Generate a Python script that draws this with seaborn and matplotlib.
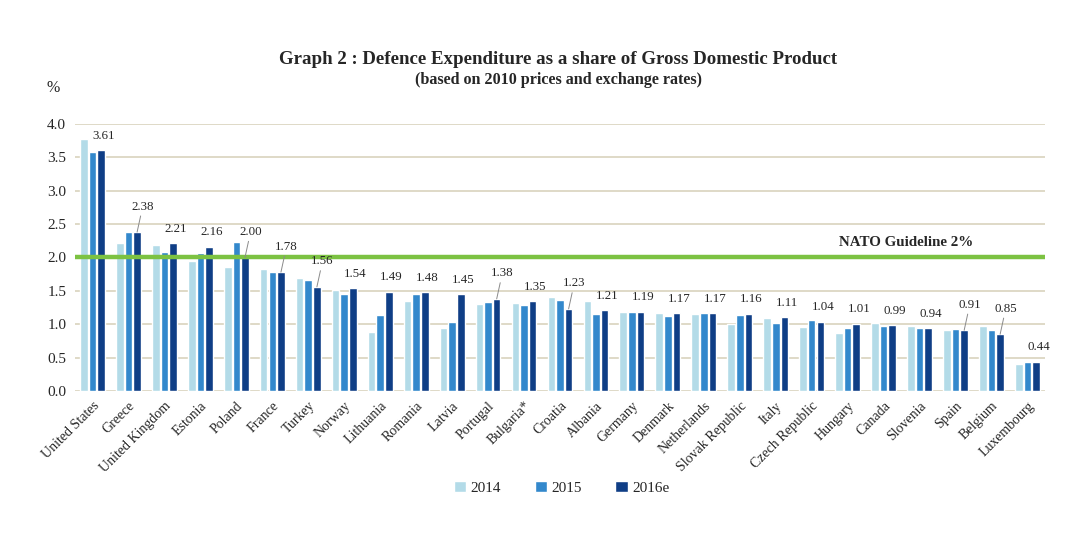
import matplotlib
matplotlib.use("Agg")
import matplotlib.pyplot as plt
import seaborn as sns
import pandas as pd

countries = ["United States", "Greece", "United Kingdom", "Estonia", "Poland", "France",
             "Turkey", "Norway", "Lithuania", "Romania", "Latvia", "Portugal", "Bulgaria*",
             "Croatia", "Albania", "Germany", "Denmark", "Netherlands", "Slovak Republic",
             "Italy", "Czech Republic", "Hungary", "Canada", "Slovenia", "Spain", "Belgium",
             "Luxembourg"]
v2014 = [3.77, 2.21, 2.19, 1.94, 1.86, 1.83, 1.70, 1.52, 0.89, 1.35, 0.94, 1.31, 1.32,
         1.41, 1.35, 1.19, 1.17, 1.155, 1.005, 1.095, 0.965, 0.875, 1.015, 0.98, 0.92, 0.97, 0.40]
v2015 = [3.58, 2.38, 2.085, 2.065, 2.23, 1.79, 1.67, 1.46, 1.145, 1.45, 1.04, 1.33, 1.29,
         1.37, 1.16, 1.19, 1.13, 1.165, 1.14, 1.015, 1.06, 0.94, 0.98, 0.94, 0.93, 0.92, 0.44]
v2016 = [3.61, 2.38, 2.21, 2.16, 2.00, 1.78, 1.56, 1.54, 1.49, 1.48, 1.45, 1.38, 1.35,
         1.23, 1.21, 1.19, 1.17, 1.17, 1.16, 1.11, 1.04, 1.01, 0.99, 0.94, 0.91, 0.85, 0.44]
years = ["2014", "2015", "2016e"]
leader_countries = ["Greece", "Poland", "France", "Turkey", "Portugal", "Croatia", "Spain", "Belgium"]
yticks = [0.0, 0.5, 1.0, 1.5, 2.0, 2.5, 3.0, 3.5, 4.0]
nato_level = 2.0

rows = []
for yr, vals in zip(years, [v2014, v2015, v2016]):
    for c, v in zip(countries, vals):
        rows.append({"country": c, "year": yr, "value": v})
df = pd.DataFrame(rows)

sns.set_theme(style="white")
plt.rcParams["font.family"] = ["Liberation Serif", "DejaVu Serif"]

palette = {"2014": "#b3dbe8", "2015": "#3388cc", "2016e": "#0f3e86"}
text_col = "#262626"

fig = plt.figure(figsize=(10.8, 5.36), dpi=100)
ax = fig.add_axes([0.069, 0.2705, 0.899, 0.4982])

sns.barplot(data=df, x="country", y="value", hue="year", palette=palette,
            order=countries, hue_order=years, width=0.72, gap=0.12,
            ax=ax, zorder=3, saturation=1, legend=True)

ax.set_ylim(0, 4.0)
ax.set_xlim(-0.5, len(countries) - 0.5)
ax.set_yticks(yticks)
ax.set_yticklabels([f"{t:.1f}" for t in yticks], fontsize=11, color=text_col)
ax.yaxis.grid(True, color="#dcd7c3", linewidth=1.3, zorder=0)
ax.set_axisbelow(True)
for s in ax.spines.values():
    s.set_visible(False)
ax.tick_params(axis="both", length=0, pad=6)
ax.set_xlabel("")
ax.set_ylabel("")
ax.set_xticks(range(len(countries)))
ax.set_xticklabels(countries, rotation=45, ha="right", rotation_mode="anchor",
                   fontsize=10, color=text_col)
ax.tick_params(axis="x", pad=6)

# NATO guideline
ax.axhline(nato_level, color="#7cc242", linewidth=3.2, zorder=5)
ax.text(0.856, nato_level + 0.12, "NATO Guideline 2%", transform=ax.get_yaxis_transform(),
        ha="center", va="bottom", fontsize=10.8, fontweight="bold", color=text_col)

# data labels on 2016e bars
cont = ax.containers[2]
for c, patch in zip(countries, cont.patches):
    x = patch.get_x() + patch.get_width() / 2
    h = patch.get_height()
    if c in leader_countries:
        ax.annotate(f"{h:.2f}", xy=(x, h), xytext=(4, 14), textcoords="offset points",
                    ha="center", va="bottom", fontsize=9.3, color=text_col, zorder=6,
                    arrowprops=dict(arrowstyle="-", color="#8a8a8a", lw=0.7,
                                    shrinkA=0, shrinkB=0))
    else:
        ax.annotate(f"{h:.2f}", xy=(x, h), xytext=(2, 6), textcoords="offset points",
                    ha="center", va="bottom", fontsize=9.3, color=text_col, zorder=6)

# legend
leg = ax.legend(loc="center", bbox_to_anchor=(0.52, 0.09), bbox_transform=fig.transFigure,
                ncol=3, frameon=False, fontsize=11, handlelength=0.8, handleheight=0.8,
                handletextpad=0.3, columnspacing=2.2)
for t in leg.get_texts():
    t.set_color(text_col)

# titles
fig.text(0.517, 0.889, "Graph 2 : Defence Expenditure as a share of Gross Domestic Product",
         ha="center", va="center", fontsize=13.6, fontweight="bold", color=text_col)
fig.text(0.517, 0.850, "(based on 2010 prices and exchange rates)",
         ha="center", va="center", fontsize=11.6, fontweight="bold", color=text_col)
fig.text(0.049, 0.836, "%", ha="center", va="center", fontsize=11.5, color=text_col)

fig.savefig("out.png", dpi=100, facecolor="white")
